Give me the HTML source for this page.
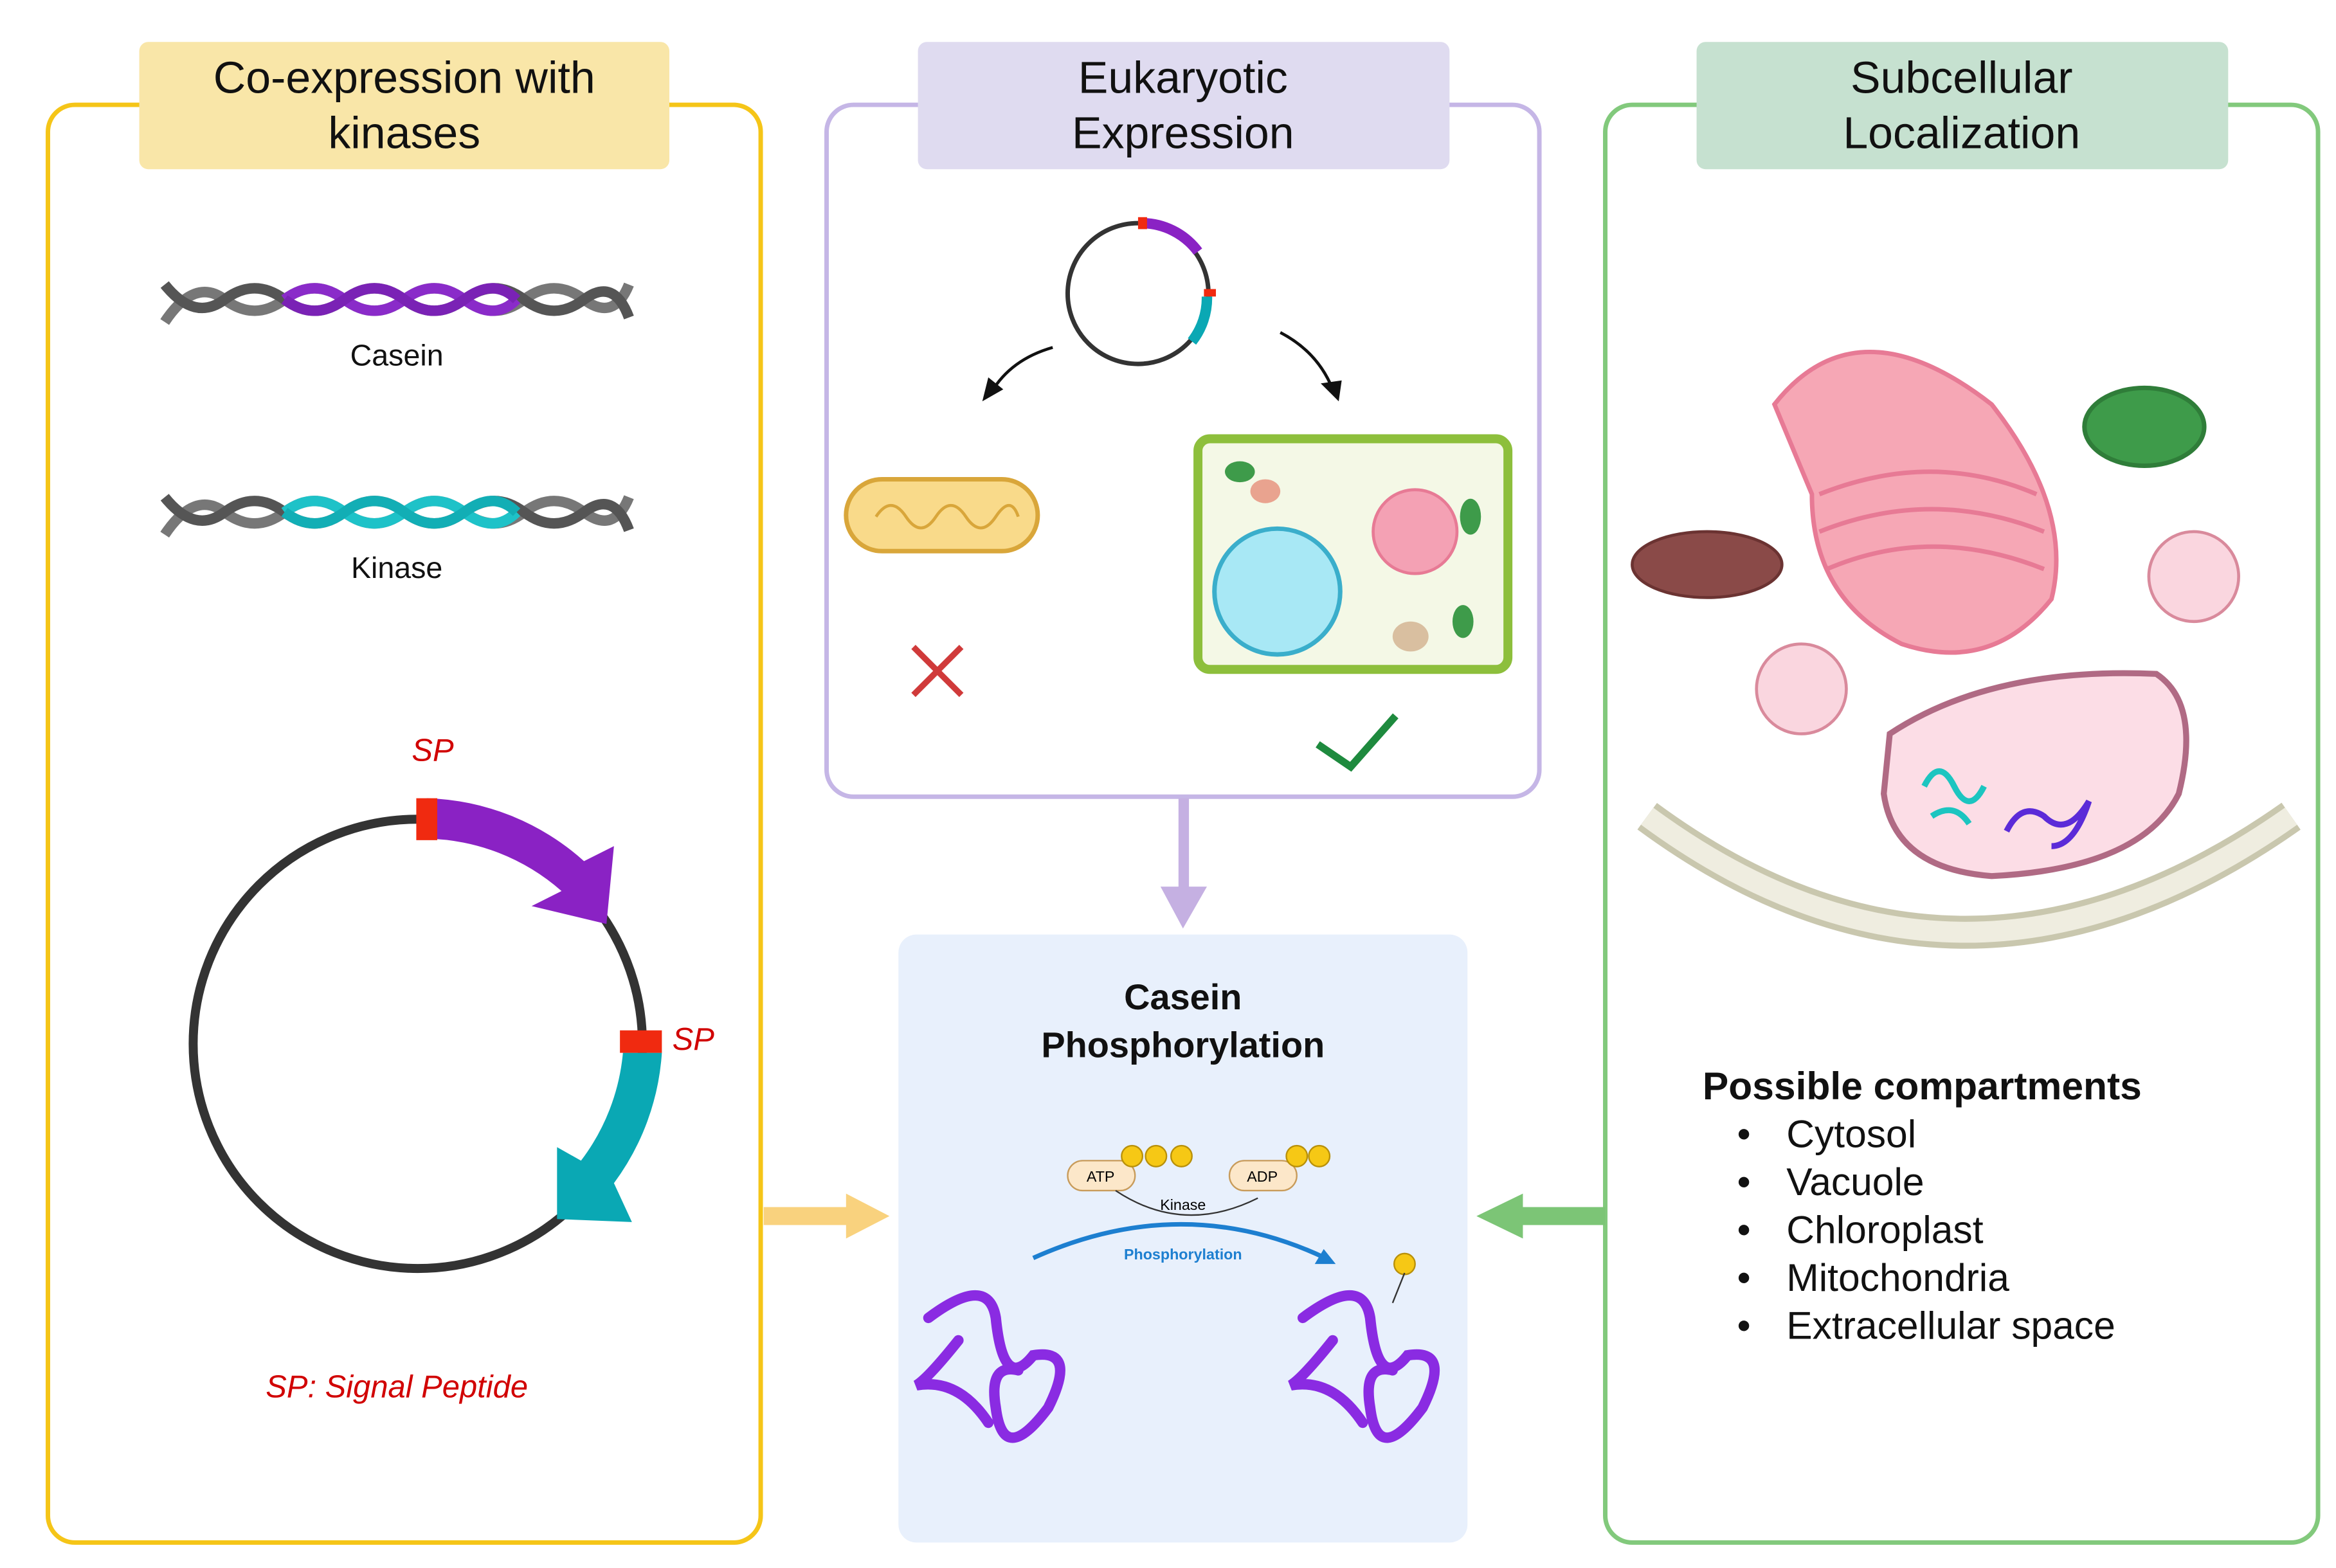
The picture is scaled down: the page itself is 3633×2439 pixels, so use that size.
<!DOCTYPE html>
<html><head><meta charset="utf-8"><style>html,body{margin:0;padding:0;background:#fff}svg{display:block}</style></head><body>
<svg width="3633" height="2439" viewBox="0 0 1560 1047" preserveAspectRatio="none" xmlns="http://www.w3.org/2000/svg" font-family="Liberation Sans, sans-serif">
<rect width="1560" height="1047" fill="#fff"/>
<!-- panels -->
<rect x="32" y="70" width="476" height="960" rx="18" fill="none" stroke="#F5C518" stroke-width="3"/>
<rect x="552" y="70" width="476" height="462" rx="18" fill="none" stroke="#C5B6E6" stroke-width="3"/>
<rect x="1072" y="70" width="476" height="960" rx="18" fill="none" stroke="#82C97C" stroke-width="3"/>
<rect x="93" y="28" width="354" height="85" rx="6" fill="#F9E6A8"/>
<rect x="613" y="28" width="355" height="85" rx="6" fill="#DFDBF0"/>
<rect x="1133" y="28" width="355" height="85" rx="6" fill="#C6E1D0"/>
<g font-size="30" fill="#111" text-anchor="middle">
<text x="270" y="62">Co-expression with</text><text x="270" y="99">kinases</text>
<text x="790" y="62">Eukaryotic</text><text x="790" y="99">Expression</text>
<text x="1310" y="62">Subcellular</text><text x="1310" y="99">Localization</text>
</g>
<!-- DNA helices -->
<g fill="none" stroke-width="7">
<path d="M110 215 Q130 185 150 200 T190 200 T230 200 T270 200 T310 200 T350 200 T390 200 T420 190" stroke="#777"/>
<path d="M110 190 Q130 215 150 200 T190 200 T230 200 T270 200 T310 200 T350 200 T390 200 T420 212" stroke="#555"/>
<path d="M190 200 Q210 185 230 200 T270 200 T310 200 T345 200" stroke="#8A2BC9"/>
<path d="M190 200 Q210 215 230 200 T270 200 T310 200 T345 200" stroke="#7A22B5"/>
<path d="M110 357 Q130 327 150 342 T190 342 T230 342 T270 342 T310 342 T350 342 T390 342 T420 332" stroke="#777"/>
<path d="M110 332 Q130 357 150 342 T190 342 T230 342 T270 342 T310 342 T350 342 T390 342 T420 354" stroke="#555"/>
<path d="M190 342 Q210 327 230 342 T270 342 T310 342 T345 342" stroke="#1EC2C8"/>
<path d="M190 342 Q210 357 230 342 T270 342 T310 342 T345 342" stroke="#12AEB5"/>
</g>
<text x="265" y="244" font-size="20" text-anchor="middle" fill="#111">Casein</text>
<text x="265" y="386" font-size="20" text-anchor="middle" fill="#111">Kinase</text>
<!-- plasmid -->
<circle cx="279" cy="697" r="150" fill="none" stroke="#333" stroke-width="6"/>
<path d="M285 533 A164 164 0 0 1 390 575 L410 565 L405 617 L355 605 L375 595 A140 140 0 0 0 285 560 Z" fill="#8A22C4"/>
<rect x="278" y="533" width="14" height="28" fill="#F02A10"/>
<path d="M416 703 L442 703 A164 164 0 0 1 410 790 L422 816 L372 814 L372 766 L388 775 A140 140 0 0 0 416 703 Z" fill="#0AA8B4"/>
<rect x="414" y="688" width="28" height="15" fill="#F02A10"/>
<g fill="#D10000" font-style="italic" font-size="21">
<text x="275" y="508">SP</text><text x="449" y="701">SP</text>
<text x="265" y="933" text-anchor="middle">SP: Signal Peptide</text></g>
<!-- middle top -->
<circle cx="760" cy="196" r="47" fill="none" stroke="#333" stroke-width="3"/>
<path d="M762 149 A47 47 0 0 1 800 168" fill="none" stroke="#8A22C4" stroke-width="7"/>
<path d="M806 198 A47 47 0 0 1 796 228" fill="none" stroke="#0AA8B4" stroke-width="7"/>
<rect x="760" y="145" width="6" height="8" fill="#F02A10"/><rect x="804" y="193" width="8" height="5" fill="#F02A10"/>
<path d="M703 232 Q675 240 662 262" fill="none" stroke="#111" stroke-width="2"/><path d="M656 268 L660 252 L670 260Z" fill="#111"/>
<path d="M855 222 Q880 235 890 260" fill="none" stroke="#111" stroke-width="2"/><path d="M894 268 L882 256 L896 254Z" fill="#111"/>
<rect x="565" y="320" width="128" height="48" rx="24" fill="#F9DA8A" stroke="#D9A63A" stroke-width="3"/>
<path d="M585 345 q10 -15 20 0 t20 0 t20 0 t20 0 t15 0" fill="none" stroke="#D9A63A" stroke-width="2"/>
<rect x="800" y="293" width="207" height="154" rx="8" fill="#F4F8E6" stroke="#8DBF3C" stroke-width="6"/>
<ellipse cx="853" cy="395" rx="42" ry="42" fill="#A8E8F5" stroke="#3AAECB" stroke-width="3"/>
<circle cx="945" cy="355" r="28" fill="#F4A1B4" stroke="#E77A95" stroke-width="2"/>
<ellipse cx="828" cy="315" rx="10" ry="7" fill="#3E9B4A"/><ellipse cx="982" cy="345" rx="7" ry="12" fill="#3E9B4A"/><ellipse cx="977" cy="415" rx="7" ry="11" fill="#3E9B4A"/>
<ellipse cx="942" cy="425" rx="12" ry="10" fill="#D9BFA0"/><ellipse cx="845" cy="328" rx="10" ry="8" fill="#E9A38F"/>
<path d="M610 432 L642 464 M642 432 L610 464" stroke="#D03A3A" stroke-width="4"/>
<path d="M880 497 L902 512 L932 478" fill="none" stroke="#1E8A3E" stroke-width="5"/>
<!-- arrows -->
<rect x="787" y="533" width="7" height="62" fill="#C5B0E2"/><path d="M775 592 L806 592 L790 620Z" fill="#C5B0E2"/>
<rect x="510" y="806" width="60" height="12" fill="#F9D27E"/><path d="M565 797 L594 812 L565 827Z" fill="#F9D27E"/>
<rect x="1015" y="806" width="57" height="12" fill="#7CC576"/><path d="M1017 797 L986 812 L1017 827Z" fill="#7CC576"/>
<!-- middle bottom -->
<rect x="600" y="624" width="380" height="406" rx="12" fill="#E8F0FC"/>
<text x="790" y="674" font-size="24" font-weight="bold" text-anchor="middle" fill="#111">Casein</text>
<text x="790" y="706" font-size="24" font-weight="bold" text-anchor="middle" fill="#111">Phosphorylation</text>
<rect x="713" y="775" width="45" height="20" rx="10" fill="#FCE7C9" stroke="#C89B5A"/><text x="735" y="789" font-size="10" text-anchor="middle">ATP</text>
<rect x="821" y="775" width="45" height="20" rx="10" fill="#FCE7C9" stroke="#C89B5A"/><text x="843" y="789" font-size="10" text-anchor="middle">ADP</text>
<g fill="#F6C815" stroke="#B8900A"><circle cx="756" cy="772" r="7"/><circle cx="772" cy="772" r="7"/><circle cx="789" cy="772" r="7"/><circle cx="866" cy="772" r="7"/><circle cx="881" cy="772" r="7"/><circle cx="938" cy="844" r="7"/></g>
<path d="M745 795 Q790 825 840 800" fill="none" stroke="#333"/><text x="790" y="808" font-size="10" text-anchor="middle">Kinase</text>
<path d="M690 840 Q790 795 885 840" fill="none" stroke="#1D7FD0" stroke-width="3"/><path d="M892 844 L878 844 L884 834Z" fill="#1D7FD0"/>
<text x="790" y="841" font-size="10" font-weight="bold" fill="#1D7FD0" text-anchor="middle">Phosphorylation</text>
<g fill="none" stroke="#8A2BE2" stroke-width="7" stroke-linecap="round">
<path d="M620 880 Q660 850 665 880 Q670 930 690 905 Q720 900 700 940 Q670 980 665 940 Q660 910 680 915 M640 895 Q620 920 612 925 Q640 920 660 950"/>
<path d="M870 880 Q910 850 915 880 Q920 930 940 905 Q970 900 950 940 Q920 980 915 940 Q910 910 930 915 M890 895 Q870 920 862 925 Q890 920 910 950"/>
</g>
<line x1="930" y1="870" x2="938" y2="850" stroke="#333"/>
<!-- right organelles -->
<path d="M1185 270 Q1240 200 1330 270 Q1385 340 1370 400 Q1330 450 1270 430 Q1210 400 1210 330 Z" fill="#F6A7B5" stroke="#E77A95" stroke-width="3"/>
<g fill="none" stroke="#E77A95" stroke-width="3"><path d="M1215 330 Q1290 300 1360 330"/><path d="M1215 355 Q1290 325 1365 355"/><path d="M1220 380 Q1290 350 1365 380"/></g>
<ellipse cx="1432" cy="285" rx="40" ry="26" fill="#3E9B4A" stroke="#2F7D39" stroke-width="3"/>
<ellipse cx="1140" cy="377" rx="50" ry="22" fill="#8A4A48" stroke="#6B3332" stroke-width="2"/>
<ellipse cx="1465" cy="385" rx="30" ry="30" fill="#FAD6DF" stroke="#D98A9C" stroke-width="2"/>
<ellipse cx="1203" cy="460" rx="30" ry="30" fill="#FAD6DF" stroke="#D98A9C" stroke-width="2"/>
<path d="M1262 490 Q1330 445 1440 450 Q1470 470 1455 530 Q1430 580 1330 585 Q1265 580 1258 530 Z" fill="#FCDDE6" stroke="#B06A84" stroke-width="4"/>
<path d="M1285 525 q10 -20 20 0 q10 20 20 0 M1290 545 q15 -10 25 5" fill="none" stroke="#1CC5C0" stroke-width="4"/>
<path d="M1340 555 q10 -20 25 -10 q15 15 30 -10 q-10 30 -25 30" fill="none" stroke="#5B2BD8" stroke-width="4"/>
<path d="M1100 545 Q1310 700 1530 545" fill="none" stroke="#C9C7AE" stroke-width="22"/>
<path d="M1100 545 Q1310 700 1530 545" fill="none" stroke="#EFEDE0" stroke-width="14"/>
<text x="1137" y="734" font-size="26" font-weight="bold" fill="#111">Possible compartments</text>
<g font-size="26" fill="#111">
<text x="1160" y="766">•</text><text x="1193" y="766">Cytosol</text>
<text x="1160" y="798">•</text><text x="1193" y="798">Vacuole</text>
<text x="1160" y="830">•</text><text x="1193" y="830">Chloroplast</text>
<text x="1160" y="862">•</text><text x="1193" y="862">Mitochondria</text>
<text x="1160" y="894">•</text><text x="1193" y="894">Extracellular space</text>
</g>
</svg>
</body></html>
